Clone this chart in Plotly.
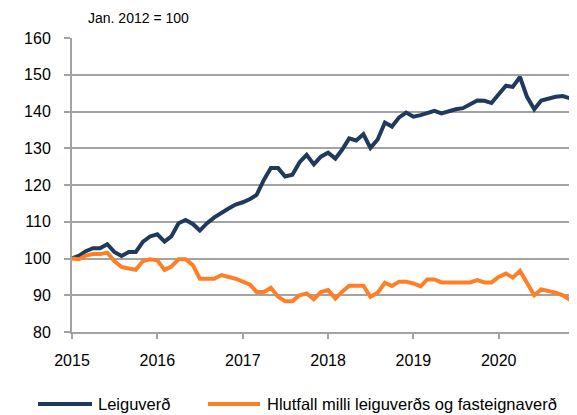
import pandas as pd
import plotly.graph_objects as go

months = pd.date_range("2015-01-01", periods=72, freq="MS")

leiguverd = [
    100.0, 100.8, 102.0, 102.8, 102.8, 103.9, 101.8, 100.7, 101.8, 101.8, 104.6, 106.0,
    106.6, 104.6, 106.0, 109.6, 110.5, 109.4, 107.6, 109.6, 111.2, 112.5, 113.6, 114.7,
    115.3, 116.2, 117.3, 121.4, 124.6, 124.6, 122.3, 122.8, 126.2, 128.2, 125.6, 127.7,
    128.8, 127.2, 129.5, 132.7, 132.1, 133.8, 130.1, 132.4, 137.0, 135.9, 138.4, 139.7,
    138.6, 139.0, 139.7, 140.2, 139.5, 140.2, 140.6, 140.9, 142.0, 143.0, 142.9, 142.3,
    144.7, 147.0, 146.7, 149.4, 144.0, 140.6, 143.0, 143.6, 144.0, 144.2, 143.6, 145.0,
]

hlutfall = [
    100.0, 99.8, 100.8, 101.2, 101.2, 101.6, 99.3, 97.7, 97.3, 96.9, 99.3, 99.8,
    99.5, 96.9, 97.8, 99.8, 99.8, 98.2, 94.5, 94.5, 94.5, 95.5, 95.0, 94.5,
    93.7, 92.9, 90.9, 90.9, 92.0, 89.6, 88.4, 88.4, 90.0, 90.5, 88.9, 90.9,
    91.4, 89.1, 90.9, 92.6, 92.6, 92.6, 89.6, 90.7, 93.4, 92.5, 93.7, 93.7,
    93.2, 92.4, 94.3, 94.3, 93.5, 93.5, 93.5, 93.5, 93.5, 94.1, 93.5, 93.5,
    95.0, 95.9, 94.8, 96.6, 93.2, 90.0, 91.6, 91.2, 90.7, 90.0, 88.8, 88.4,
]

year_ticks = ["2015-01-01", "2016-01-01", "2017-01-01", "2018-01-01", "2019-01-01", "2020-01-01"]
year_labels = ["2015", "2016", "2017", "2018", "2019", "2020"]
y_ticks = [80, 90, 100, 110, 120, 130, 140, 150, 160]

series_names = ["Leiguverð", "Hlutfall milli leiguverðs og fasteignaverð"]
colors = ["#1f3a5c", "#ff7f27"]

FONT = "Liberation Sans, Arial, sans-serif"
GRID = "#a3a3a3"

# the page body adds an 8px offset, so the figure is sized/margined to compensate
fig = go.Figure()
fig.add_trace(go.Scatter(x=months, y=leiguverd, mode="lines", name=series_names[0],
                         line=dict(color=colors[0], width=4), showlegend=False))
fig.add_trace(go.Scatter(x=months, y=hlutfall, mode="lines", name=series_names[1],
                         line=dict(color=colors[1], width=4), showlegend=False))

fig.update_layout(
    width=569, height=407,
    margin=dict(l=64, r=0, t=30, b=83),
    paper_bgcolor="white", plot_bgcolor="white",
    font=dict(family=FONT, size=16, color="#000000"),
    xaxis=dict(
        type="date", range=[months[0], months[-1]],
        tickvals=year_ticks, ticktext=year_labels,
        showgrid=False, zeroline=False,
        showline=True, linecolor=GRID, linewidth=2,
        ticks="outside", ticklen=5, tickwidth=2, tickcolor=GRID,
        ticklabelstandoff=8,
        tickfont=dict(size=16),
    ),
    yaxis=dict(
        range=[80, 160], tickvals=y_ticks,
        showgrid=True, gridcolor=GRID, gridwidth=2, zeroline=False,
        showline=True, linecolor=GRID, linewidth=2,
        ticks="outside", ticklen=6, tickwidth=2, tickcolor=GRID,
        ticklabelstandoff=10,
        tickfont=dict(size=16),
    ),
    showlegend=False,
)

# title note
fig.add_annotation(text="Jan. 2012 = 100", xref="paper", yref="paper",
                   x=0.0277, y=1.068, xanchor="left", yanchor="middle",
                   showarrow=False, font=dict(size=14, family=FONT))

# legend drawn below the plot
leg_y = -0.245
legend_items = [
    (-0.0673, 0.0396, 0.0475, 0),
    (0.2693, 0.3723, 0.3822, 1),
]
for x0, x1, xt, i in legend_items:
    fig.add_shape(type="line", xref="paper", yref="paper", x0=x0, x1=x1, y0=leg_y, y1=leg_y,
                  line=dict(color=colors[i], width=4))
    fig.add_annotation(text=series_names[i], xref="paper", yref="paper", x=xt, y=leg_y,
                       xanchor="left", yanchor="middle", showarrow=False,
                       font=dict(size=16.5, family=FONT))

fig.write_html("out.html")
